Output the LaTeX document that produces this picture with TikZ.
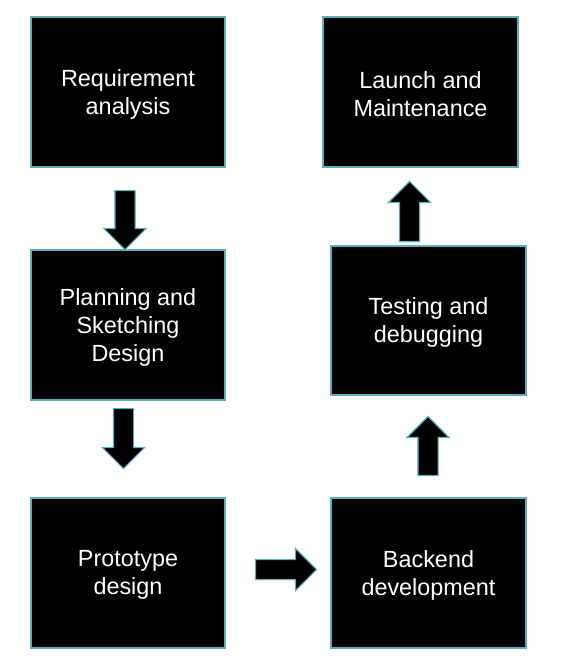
\documentclass[tikz,border=0pt]{standalone}
\usepackage{fontspec}
\setmainfont{Liberation Sans}
\usetikzlibrary{shapes.arrows}
\definecolor{bord}{HTML}{5AAFB8}
\tikzset{
  box/.style={draw=bord, fill=black, line width=1.2pt, minimum width=194pt, minimum height=150pt,
    inner sep=0pt},
  lbl/.style={text=white, font=\fontsize{23.4}{28}\selectfont, align=center, yshift=-2pt, inner sep=0pt},
  barrow/.style={single arrow, draw=bord, fill=black, line width=1.2pt, inner xsep=0pt,
    inner ysep=9.5pt, single arrow head extend=11pt, single arrow head indent=0pt, anchor=tail}
}
\begin{document}
\begin{tikzpicture}[x=1pt,y=-1pt]
\fill[white] (0,0) rectangle (582,667);
\useasboundingbox (0,0) rectangle (582,667);
\node[box, label={[lbl]center:Requirement\\analysis}] (A) at (128,92) {};
\node[box, label={[lbl]center:Planning and\\Sketching\\Design}] (B) at (128,325) {};
\node[box, label={[lbl]center:Prototype\\design}] (C) at (128,573) {};
\node[box, minimum width=195pt, label={[lbl]center:Backend\\development}] (D) at (428.5,573) {};
\node[box, minimum width=195pt, minimum height=149pt, label={[lbl]center:Testing and\\debugging}] (E) at (428.5,320.5) {};
\node[box, minimum width=195pt, label={[lbl]center:Launch and\\Maintenance}] (F) at (420.5,92) {};
\node[barrow, minimum height=59pt, rotate=-90] (a1) at (125,190) {};
\node[barrow, minimum height=60pt, rotate=-90] (a2) at (123.5,408) {};
\node[barrow, minimum height=61pt] (a3) at (255,569.5) {};
\node[barrow, minimum height=59pt, rotate=90] (a4) at (428,476) {};
\node[barrow, minimum height=60pt, rotate=90] (a5) at (409.5,242) {};
\end{tikzpicture}
\end{document}
